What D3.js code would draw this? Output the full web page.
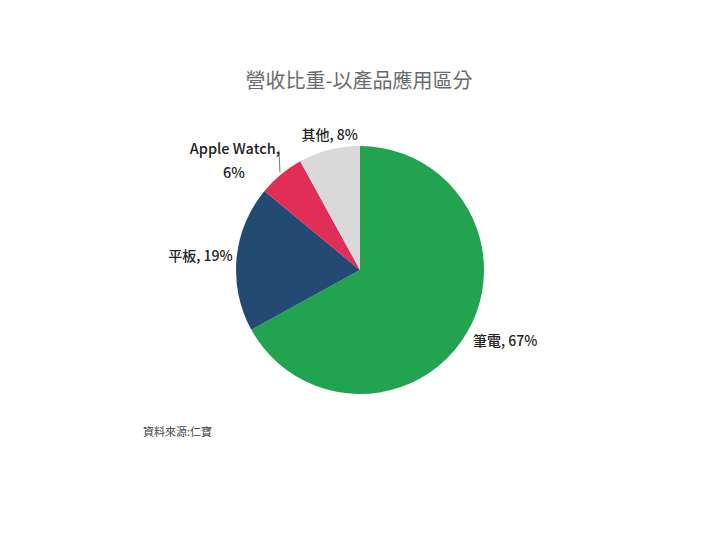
<!DOCTYPE html>
<html>
<head>
<meta charset="utf-8">
<script src="https://cdn.jsdelivr.net/npm/d3@7"></script>
<style>
  body { margin: 0; background: #fff; }
  text { font-family: "Noto Sans CJK TC", "Open Sans", sans-serif; }
</style>
</head>
<body>
<div id="chart"></div>
<script>
// Data
const categories = ["筆電", "平板", "Apple Watch", "其他"];
const shares = [67, 19, 6, 8];
const colors = ["#22A34F", "#224A72", "#E02E58", "#D9D9D9"];
const title = "營收比重-以產品應用區分";
const source = "資料來源:仁寶";

const width = 720, height = 540;
const cx = 360, cy = 270, radius = 124;

const svg = d3.select("#chart")
  .append("svg")
    .attr("width", width)
    .attr("height", height);

svg.append("text")
  .attr("x", 359)
  .attr("y", 88)
  .attr("text-anchor", "middle")
  .style("font-size", "20px")
  .style("font-weight", 400)
  .style("fill", "#6b6b6b")
  .text(title);

const data = categories.map((c, i) => ({ name: c, value: shares[i], color: colors[i] }));

const pie = d3.pie().value(d => d.value).sort(null);
const arc = d3.arc().innerRadius(0).outerRadius(radius);

const g = svg.append("g").attr("transform", `translate(${cx},${cy})`);
const arcs = pie(data);

g.selectAll("path")
  .data(arcs)
  .join("path")
  .attr("d", arc)
  .attr("fill", d => d.data.color);

// label placement around the pie
const labelArc = d3.arc().innerRadius(130).outerRadius(130);
const labelStyle = [
  { anchor: "start", dx: 1, dy: 10 },
  { anchor: "end", dx: 2, dy: 3 },
  { anchor: "end", dx: 0, dy: 0 },
  { anchor: "middle", dx: 2, dy: -4 }
];

arcs.forEach((a, i) => {
  const [x, y] = labelArc.centroid(a);
  const s = labelStyle[i];
  if (a.data.name === "Apple Watch") {
    // two-line label with leader line
    const [ex, ey] = d3.arc().innerRadius(radius).outerRadius(radius).centroid(a);
    g.append("line")
      .attr("x1", ex - 1).attr("y1", ey - 2)
      .attr("x2", ex - 2).attr("y2", ey - 24)
      .attr("stroke", "#777")
      .attr("stroke-width", 1);
    const t = g.append("text")
      .attr("text-anchor", "end")
      .style("font-size", "14.5px")
      .style("font-weight", 500)
      .style("fill", "#222");
    t.append("tspan").attr("x", ex - 1).attr("y", ey - 20).text(a.data.name + ",");
    t.append("tspan").attr("x", ex - 47).attr("y", ey + 4).attr("text-anchor", "middle").text(a.data.value + "%");
    return;
  }
  g.append("text")
    .attr("x", x + s.dx)
    .attr("y", y + s.dy)
    .attr("text-anchor", s.anchor)
    .style("font-size", "14px")
    .style("font-weight", 500)
    .style("fill", "#222")
    .text(`${a.data.name}, ${a.data.value}%`);
});

svg.append("text")
  .attr("x", 143)
  .attr("y", 436)
  .style("font-size", "11px")
  .style("fill", "#444")
  .text(source);
</script>
</body>
</html>
